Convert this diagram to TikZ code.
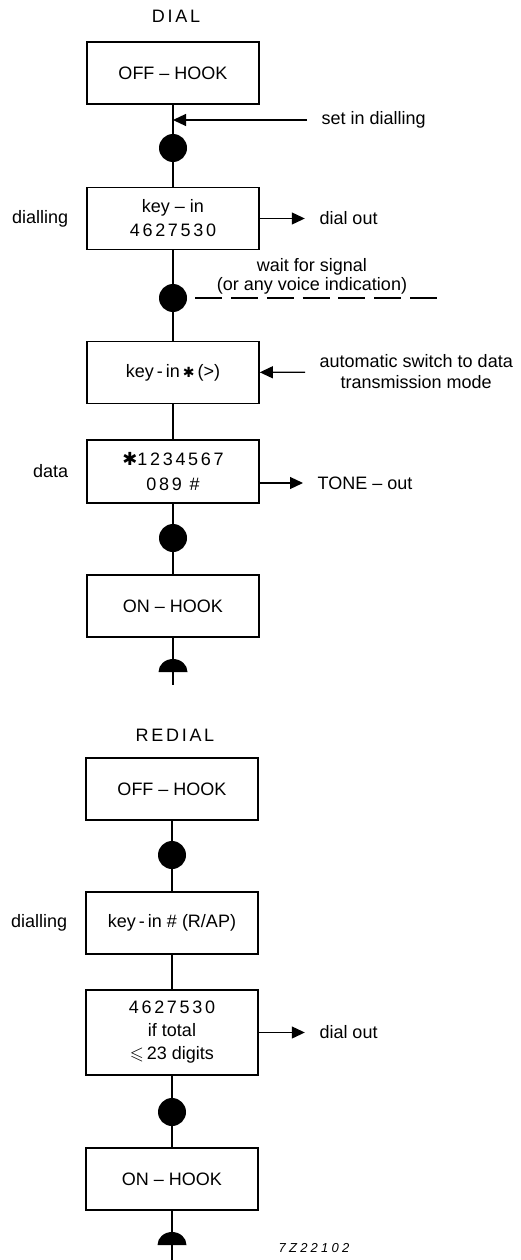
\documentclass[tikz,border=0pt]{standalone}
\usepackage{amssymb}
\usepackage{fontspec}
\setmainfont{Liberation Sans}
\newfontfamily\symfont{DejaVu Sans}
\newfontfamily\spacedfont[LetterSpace=15]{Liberation Sans}
\newfontfamily\refnofont[LetterSpace=25]{Liberation Sans Italic}
\usetikzlibrary{arrows.meta,positioning}

\begin{document}
\begin{tikzpicture}[
    x=1pt, y=-1pt,
    font=\fontsize{18}{23}\selectfont,
    node distance=14.5pt,
    box/.style={draw=black, line width=1.6pt, align=center, inner sep=0pt,
                minimum width=172pt, minimum height=62pt},
    dot/.style={circle, fill=black, inner sep=0pt, minimum size=28pt},
    link/.style={line width=1.2pt, draw=black},
    arrow/.style={-{Triangle[length=13pt, width=12pt]}, line width=1.2pt, draw=black},
    tag/.style={inner xsep=14.5pt, inner ysep=0pt, align=center},
    dashline/.style={line width=1.5pt, dash pattern=on 27pt off 8.8pt}
]
\useasboundingbox (0,0) rectangle (521,1260);

% dial
\node (dial) at (176,16) {\spacedfont DIAL};
\node[box] (offhookA) at (173,73) {OFF -- HOOK};
\node[dot] (dotA) at (173,148) {};
\node[box] (keyinA) at (173,218.5) {key -- in\\[1pt]{\spacedfont 4627530}};
\node[dot] (dotB) at (173,298) {};
\node[box] (keyinB) at (173,372.5) {key\,-\,in\,{\symfont\fontsize{14}{14}\selectfont ✱}\,(>)};
\node[box, minimum height=63pt] (dataA) at (173,471.5) {{\spacedfont{\symfont ✱}1234567}\\[2pt]{\spacedfont 089 \#}};
\node[dot] (dotC) at (173,538) {};
\node[box] (onhookA) at (173,606) {ON -- HOOK};
\coordinate (capA) at (173,672);
\coordinate (endA) at (173,685);

\coordinate (setin) at (173,120);
\node[tag, anchor=west] (setlbl) at (307,120) {set in dialling};
\node[left=of keyinA] (diallingA) {dialling};
\node[tag, right=45pt of keyinA] (dialoutA) {dial out};
\node[align=center] (wait) at (312,276.5) {wait for signal\\[-4pt](or any voice indication)};
\coordinate (waitend) at (437,298);
\node[tag, anchor=west] (autolbl) at (305,372) {automatic switch to data\\[-2pt]transmission mode};
\node[left=of dataA] (datalbl) {data};
\node[tag, anchor=west] (tone) at (303,483) {TONE -- out};

\draw[link] (offhookA) -- (dotA);
\draw[link] (dotA) -- (keyinA);
\draw[link] (keyinA) -- (dotB);
\draw[link] (dotB) -- (keyinB);
\draw[link] (keyinB) -- (dataA);
\draw[link] (dataA) -- (dotC);
\draw[link] (dotC) -- (onhookA);
\draw[link] (onhookA) -- (endA);
\fill ([xshift=-14.5pt]capA) arc[start angle=180, end angle=0, x radius=14.5pt, y radius=13pt] -- cycle;

\draw[arrow] (setlbl) -- (setin);
\draw[arrow] (keyinA) -- (dialoutA);
\draw[dashline] ([xshift=8pt]dotB.east) -- (waitend);
\draw[arrow] (autolbl) -- (keyinB);
\draw[arrow] (dataA.east |- tone) -- (tone);

% redial
\node (redial) at (175,735) {\spacedfont REDIAL};
\node[box] (offhookB) at (172,789) {OFF -- HOOK};
\node[dot] (dotD) at (172,855) {};
\node[box] (keyinC) at (172,923) {key\,-\,in \# (R/AP)};
\node[box, minimum height=85pt] (total) at (172,1032.5) {{\spacedfont 4627530}\\if total\\$\leqslant$\,23 digits};
\node[dot] (dotE) at (172,1112) {};
\node[box] (onhookB) at (172,1179) {ON -- HOOK};
\coordinate (capB) at (172,1245);
\coordinate (endB) at (172,1260);

\node[left=of keyinC] (diallingB) {dialling};
\node[tag, right=46pt of total] (dialoutB) {dial out};
\node (refno) at (314,1248) {\refnofont\fontsize{13}{13}\selectfont 7Z22102};

\draw[link] (offhookB) -- (dotD);
\draw[link] (dotD) -- (keyinC);
\draw[link] (keyinC) -- (total);
\draw[link] (total) -- (dotE);
\draw[link] (dotE) -- (onhookB);
\draw[link] (onhookB) -- (endB);
\fill ([xshift=-14.5pt]capB) arc[start angle=180, end angle=0, x radius=14.5pt, y radius=13pt] -- cycle;

\draw[arrow] (total) -- (dialoutB);
\end{tikzpicture}
\end{document}
